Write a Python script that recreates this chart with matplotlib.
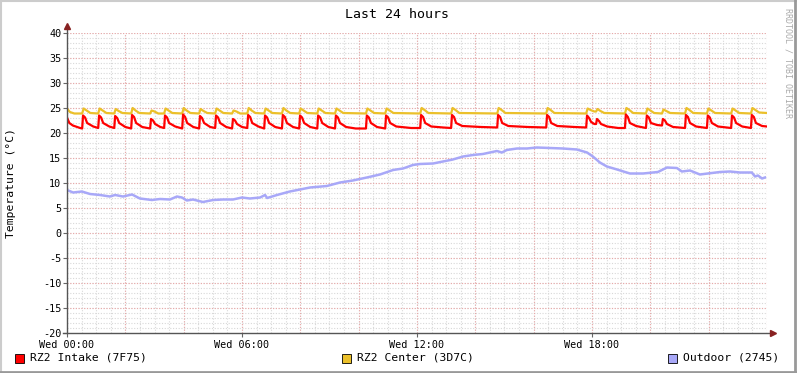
import numpy as np
import matplotlib.pyplot as plt
from matplotlib.patches import Rectangle
from matplotlib.lines import Line2D

# --- data (hours since Wed 00:00, degrees C) ---
intake_t = [0.00, 0.08, 0.20, 0.45,
            0.52, 0.55, 0.62, 0.69, 0.90,
            1.07, 1.10, 1.17, 1.24, 1.45,
            1.62, 1.65, 1.72, 1.79, 2.00,
            2.20, 2.23, 2.30, 2.37, 2.58,
            2.85, 2.88, 2.95, 3.02, 3.20,
            3.33, 3.36, 3.43, 3.50, 3.71,
            3.95, 3.98, 4.05, 4.12, 4.33,
            4.53, 4.56, 4.63, 4.70, 4.91,
            5.08, 5.11, 5.18, 5.25, 5.46,
            5.66, 5.69, 5.76, 5.83, 6.00,
            6.18, 6.21, 6.28, 6.35, 6.56,
            6.76, 6.79, 6.86, 6.93, 7.14,
            7.37, 7.40, 7.47, 7.54, 7.75,
            7.96, 7.99, 8.06, 8.13, 8.34,
            8.58, 8.61, 8.68, 8.75, 8.96,
            9.19, 9.22, 9.29, 9.36, 9.57, 9.90,
            10.25, 10.28, 10.35, 10.42, 10.63,
            10.91, 10.94, 11.01, 11.08, 11.29, 11.80,
            12.11, 12.14, 12.21, 12.28, 12.49, 12.90,
            13.17, 13.20, 13.27, 13.34, 13.55, 14.20,
            14.75, 14.78, 14.85, 14.92, 15.13, 15.80,
            16.43, 16.46, 16.53, 16.60, 16.81, 17.40,
            17.80, 17.83, 17.90, 17.97, 18.08,
            18.14, 18.17, 18.24, 18.31, 18.52, 18.90,
            19.13, 19.16, 19.23, 19.30, 19.51,
            19.85, 19.88, 19.95, 20.02, 20.23,
            20.40, 20.43, 20.50, 20.57, 20.78,
            21.19, 21.22, 21.29, 21.36, 21.57,
            21.94, 21.97, 22.04, 22.11, 22.32,
            22.77, 22.80, 22.87, 22.94, 23.15,
            23.45, 23.48, 23.55, 23.62, 23.83, 24.00]
intake_v = [23.1, 22.0, 21.5, 21.0,
            20.9, 23.5, 23.1, 22.0, 21.3,
            21.0, 23.5, 23.1, 22.0, 21.3,
            21.0, 23.4, 23.0, 22.0, 21.2,
            20.9, 23.6, 23.2, 22.0, 21.2,
            20.9, 22.8, 22.5, 21.8, 21.2,
            21.0, 23.5, 23.1, 22.0, 21.3,
            20.9, 23.7, 23.2, 22.0, 21.2,
            20.9, 23.4, 23.0, 22.0, 21.2,
            21.0, 23.5, 23.1, 22.0, 21.2,
            20.9, 22.8, 22.5, 21.8, 21.2,
            21.0, 23.6, 23.2, 22.0, 21.3,
            20.9, 23.5, 23.1, 22.0, 21.2,
            20.9, 23.6, 23.2, 22.0, 21.2,
            20.9, 23.5, 23.1, 22.0, 21.2,
            20.9, 23.5, 23.1, 22.0, 21.2,
            20.9, 23.5, 23.1, 22.0, 21.2, 20.9,
            20.9, 23.5, 23.1, 22.0, 21.2,
            20.9, 23.5, 23.1, 22.0, 21.3, 21.0,
            21.0, 23.6, 23.2, 22.0, 21.3, 21.1,
            21.0, 23.6, 23.2, 22.0, 21.4, 21.2,
            21.1, 23.6, 23.2, 22.0, 21.4, 21.2,
            21.1, 23.6, 23.2, 22.0, 21.4, 21.2,
            21.1, 23.5, 23.0, 22.2, 21.8,
            21.8, 22.8, 22.4, 21.8, 21.3, 21.0,
            21.0, 23.7, 23.2, 22.0, 21.4,
            21.0, 23.5, 23.1, 22.0, 21.6,
            21.5, 22.8, 22.5, 21.8, 21.2,
            21.0, 23.6, 23.2, 22.0, 21.3,
            21.0, 23.5, 23.1, 22.0, 21.3,
            21.0, 23.5, 23.1, 22.0, 21.3,
            21.0, 23.6, 23.2, 22.0, 21.4, 21.3]

center_t = [0.00, 0.10, 0.25,
            0.52, 0.57, 0.67, 0.80,
            1.07, 1.12, 1.22, 1.35,
            1.62, 1.67, 1.77, 1.90,
            2.20, 2.25, 2.35, 2.48,
            2.85, 2.90, 3.00, 3.13,
            3.33, 3.38, 3.48, 3.61,
            3.95, 4.00, 4.10, 4.23,
            4.53, 4.58, 4.68, 4.81,
            5.08, 5.13, 5.23, 5.36,
            5.66, 5.71, 5.81, 5.94,
            6.18, 6.23, 6.33, 6.46,
            6.76, 6.81, 6.91, 7.04,
            7.37, 7.42, 7.52, 7.65,
            7.96, 8.01, 8.11, 8.24,
            8.58, 8.63, 8.73, 8.86,
            9.19, 9.24, 9.34, 9.47,
            10.25, 10.30, 10.40, 10.53,
            10.91, 10.96, 11.06, 11.19,
            12.11, 12.16, 12.26, 12.39,
            13.17, 13.22, 13.32, 13.45,
            14.75, 14.80, 14.90, 15.03,
            16.43, 16.48, 16.58, 16.71,
            17.80, 17.85, 17.95, 18.08,
            18.14, 18.19, 18.29, 18.42,
            19.13, 19.18, 19.28, 19.41,
            19.85, 19.90, 20.00, 20.13,
            20.40, 20.45, 20.55, 20.68,
            21.19, 21.24, 21.34, 21.47,
            21.94, 21.99, 22.09, 22.22,
            22.77, 22.82, 22.92, 23.05,
            23.45, 23.50, 23.60, 23.73, 24.00]
center_v = [24.9, 24.2, 23.9,
            23.9, 24.9, 24.5, 24.0,
            23.9, 24.9, 24.5, 24.0,
            23.9, 24.8, 24.4, 24.0,
            23.9, 25.0, 24.5, 24.0,
            23.9, 24.5, 24.3, 23.9,
            23.9, 24.9, 24.5, 24.0,
            23.9, 25.0, 24.5, 24.0,
            23.9, 24.8, 24.4, 24.0,
            23.9, 24.9, 24.5, 24.0,
            23.9, 24.5, 24.3, 23.9,
            23.9, 25.0, 24.5, 24.0,
            23.9, 24.9, 24.5, 24.0,
            23.9, 25.0, 24.5, 24.0,
            23.9, 24.9, 24.5, 24.0,
            23.9, 24.9, 24.5, 24.0,
            23.9, 24.9, 24.5, 24.0,
            23.9, 24.9, 24.5, 24.0,
            23.9, 24.9, 24.5, 24.0,
            23.9, 25.0, 24.6, 24.0,
            23.9, 25.0, 24.6, 24.0,
            23.9, 25.0, 24.6, 24.0,
            23.9, 25.0, 24.6, 24.0,
            23.9, 24.9, 24.6, 24.3,
            24.3, 24.8, 24.4, 24.0,
            23.9, 25.0, 24.6, 24.0,
            23.9, 24.9, 24.5, 24.0,
            23.9, 24.7, 24.4, 24.0,
            23.9, 25.0, 24.6, 24.0,
            23.9, 24.9, 24.5, 24.0,
            23.9, 24.9, 24.5, 24.0,
            23.9, 25.0, 24.6, 24.1, 24.0]

outdoor_t = [0.00, 0.21, 0.51, 0.79, 1.13, 1.47, 1.65, 1.92, 2.23, 2.50,
             2.91, 3.19, 3.53, 3.77, 3.94, 4.11, 4.32, 4.66, 5.01, 5.35,
             5.69, 6.00, 6.27, 6.62, 6.79, 6.86, 7.20, 7.64, 7.99, 8.33,
             8.91, 9.36, 9.80, 10.28, 10.73, 11.18, 11.52, 11.86, 12.10, 12.55,
             12.89, 13.23, 13.58, 13.92, 14.26, 14.50, 14.74, 14.91, 15.08, 15.43,
             15.77, 16.11, 16.56, 17.00, 17.48, 17.83, 18.03, 18.27, 18.51, 18.86,
             19.30, 19.75, 20.26, 20.57, 20.91, 21.08, 21.36, 21.70, 21.97, 22.39,
             22.73, 23.07, 23.48, 23.59, 23.69, 23.83, 23.93]
outdoor_v = [8.6, 8.1, 8.3, 7.8, 7.6, 7.3, 7.6, 7.3, 7.7, 6.9,
             6.6, 6.8, 6.7, 7.3, 7.1, 6.5, 6.7, 6.2, 6.6, 6.7,
             6.7, 7.1, 6.9, 7.1, 7.6, 7.0, 7.6, 8.3, 8.7, 9.1,
             9.4, 10.1, 10.5, 11.1, 11.7, 12.6, 12.9, 13.6, 13.8, 13.9,
             14.3, 14.7, 15.3, 15.6, 15.8, 16.1, 16.4, 16.1, 16.6, 16.9,
             16.9, 17.1, 17.0, 16.9, 16.7, 16.1, 15.3, 14.1, 13.3, 12.7,
             11.9, 11.9, 12.2, 13.1, 13.0, 12.3, 12.5, 11.7, 11.9, 12.2,
             12.3, 12.1, 12.1, 11.3, 11.5, 10.9, 11.1]

x_ticks = [0, 6, 12, 18]
x_labels = ["Wed 00:00", "Wed 06:00", "Wed 12:00", "Wed 18:00"]
legend_names = ["RZ2 Intake (7F75)", "RZ2 Center (3D7C)", "Outdoor (2745)"]

c_intake = "#ff0000"
c_center = "#ebc02a"
c_outdoor = "#a8a8f8"

plt.rcParams['font.family'] = 'DejaVu Sans Mono'

fig = plt.figure(figsize=(7.97, 3.73), dpi=100)
fig.patch.set_facecolor("white")
ax = fig.add_axes([67/797, 40/373, 700/797, 300/373])
ax.set_xlim(0, 24)
ax.set_ylim(-20, 40)
for s in ax.spines.values():
    s.set_visible(False)

# grid like rrdtool
for x in np.arange(0.5, 24.01, 0.5):
    ax.axvline(x, color="#d8d8d8", lw=0.8, ls=(0, (1, 1.5)), zorder=0)
for y in np.arange(-19, 40.5, 1):
    ax.axhline(y, color="#d8d8d8", lw=0.8, ls=(0, (1, 1.5)), zorder=0)
for x in np.arange(2, 24.01, 2):
    ax.axvline(x, color="#eaa8a8", lw=0.8, ls=(0, (1, 1.5)), zorder=0.5)
for y in np.arange(-15, 40.5, 5):
    ax.axhline(y, color="#eaa8a8", lw=0.8, ls=(0, (1, 1.5)), zorder=0.5)

ax.plot(intake_t, intake_v, color=c_intake, lw=1.6, zorder=3)
ax.plot(center_t, center_v, color=c_center, lw=1.6, zorder=2)
ax.plot(outdoor_t, outdoor_v, color=c_outdoor, lw=1.8, zorder=2)

ax.set_xticks(x_ticks)
ax.set_xticklabels(x_labels, fontsize=7.3)
ax.set_yticks(np.arange(-20, 41, 5))
ax.set_yticklabels([str(v) for v in range(-20, 41, 5)], fontsize=7.3)
ax.tick_params(axis="both", length=3, width=0.8, color="#666666", pad=1)
ax.tick_params(axis="x", pad=2)

# axes with arrows
ax.plot([0, 0], [0, 1.02], transform=ax.transAxes, color="#555555", lw=1, clip_on=False, zorder=4)
ax.plot([-0.006, 1.005], [0, 0], transform=ax.transAxes, color="#555555", lw=1, clip_on=False, zorder=4)
ax.plot([0], [1.025], marker="^", ms=4, color="#882222", transform=ax.transAxes, clip_on=False, zorder=5)
ax.plot([1.009], [0], marker=">", ms=4, color="#882222", transform=ax.transAxes, clip_on=False, zorder=5)

fig.text(11/797, 1 - 183/373, "Temperature (°C)", rotation=90, ha="center", va="center", fontsize=8.2)
fig.text(397/797, 1 - 14/373, "Last 24 hours", ha="center", va="center", fontsize=9.5)
fig.text(788/797, 1 - 8/373, "RRDTOOL / TOBI OETIKER", rotation=270, ha="center", va="top",
         fontsize=6, color="#aaaaaa")

# legend
leg_box_x = [15, 342, 668]
for bx, name, col in zip(leg_box_x, legend_names, [c_intake, c_center, c_outdoor]):
    fig.patches.append(Rectangle((bx/797, 1 - 363/373), 9/797, 9/373, transform=fig.transFigure,
                                 facecolor=col, edgecolor="black", lw=0.6))
    fig.text((bx + 15)/797, 1 - 358/373, name, ha="left", va="center", fontsize=8.2)

# 3d-ish frame around the image
fig.add_artist(Line2D([0, 1], [0.998, 0.998], color="#cccccc", lw=1.5))
fig.add_artist(Line2D([0.001, 0.001], [0, 1], color="#cccccc", lw=1.5))
fig.add_artist(Line2D([0, 1], [0.003, 0.003], color="#999999", lw=2))
fig.add_artist(Line2D([0.998, 0.998], [0, 1], color="#999999", lw=2))

fig.savefig("out.png", dpi=100)
